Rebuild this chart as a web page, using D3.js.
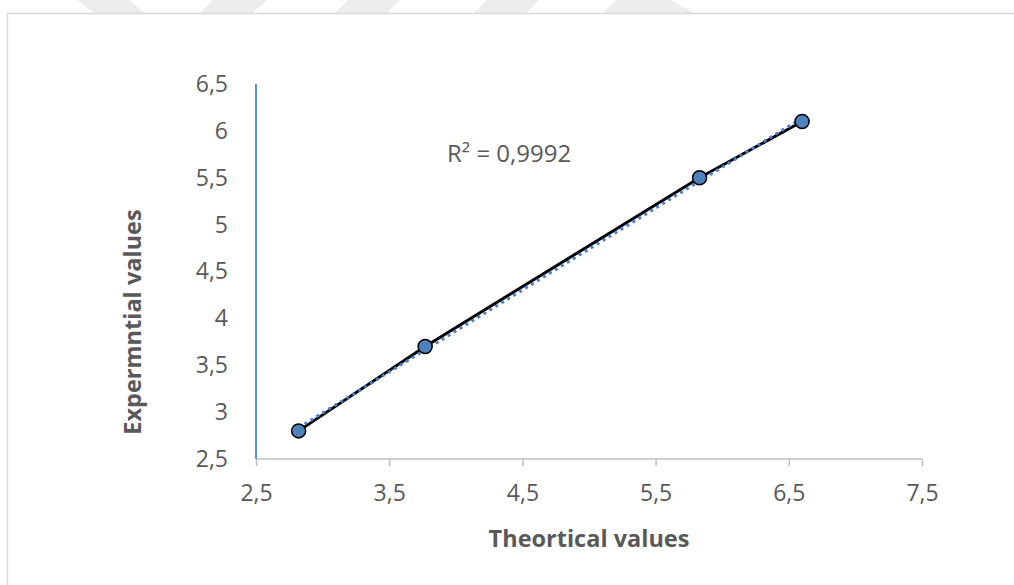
<!DOCTYPE html>
<html>
<head>
<meta charset="utf-8">
<script src="https://cdn.jsdelivr.net/npm/d3@7"></script>
<style>
  html, body { margin: 0; padding: 0; background: #fff; }
  svg { display: block; }
</style>
</head>
<body>
<svg id="chart" width="1014" height="585"></svg>
<script>
// ---- data ----
const theoretical = [2.82, 3.77, 5.83, 6.60];
const experimental = [2.8, 3.7, 5.5, 6.1];
const xTicks = [2.5, 3.5, 4.5, 5.5, 6.5, 7.5];
const yTicks = [2.5, 3, 3.5, 4, 4.5, 5, 5.5, 6, 6.5];
const xTitle = "Theortical values";
const yTitle = "Expermntial values";
const r2Label = "R² = 0,9992";

const svg = d3.select("#chart");
const font = "'Open Sans', sans-serif";
const textColor = "#595959";

// watermark wedges at the top
const wm = [
  [[77,0],[129,0],[145,13],[94,13]],
  [[213,0],[268,0],[252,13],[200,13]],
  [[348,0],[400,0],[387,13],[335,13]],
  [[487,0],[539,0],[526,13],[474,13]],
  [[616,0],[671,0],[694,13],[603,13]]
];
svg.selectAll("polygon.wm").data(wm).enter().append("polygon")
  .attr("points", d => d.map(p => p.join(",")).join(" "))
  .attr("fill", "#ededed");

// chart frame
svg.append("path")
  .attr("d", "M7.5,585 L7.5,13.5 L1014,13.5")
  .attr("fill", "none").attr("stroke", "#d9d9d9").attr("stroke-width", 1.5);

const x = d3.scaleLinear().domain([2.5, 7.5]).range([256, 922]);
const y = d3.scaleLinear().domain([2.5, 6.5]).range([459, 84]);
const fmt = v => String(v).replace(".", ",");

// x axis
const xAxis = svg.append("g").attr("transform", "translate(0,459)")
  .call(d3.axisBottom(x).tickValues(xTicks).tickSize(7).tickPadding(19).tickFormat(fmt));
xAxis.select(".domain").attr("stroke", "#bfbfbf").attr("stroke-width", 1.5)
  .attr("d", `M${x(2.5)},0H${x(7.5)}`);
xAxis.selectAll(".tick line").attr("stroke", "#bfbfbf").attr("stroke-width", 1.5);
xAxis.selectAll(".tick text").attr("fill", textColor)
  .style("font-family", font).style("font-size", "23px");

// y axis
const yAxis = svg.append("g").attr("transform", "translate(256,0)")
  .call(d3.axisLeft(y).tickValues(yTicks).tickSize(0).tickPadding(28).tickFormat(fmt));
yAxis.select(".domain").attr("stroke", "#5b8fd6").attr("stroke-width", 2)
  .attr("d", `M0,${y(2.5)}V${y(6.5)}`);
yAxis.selectAll(".tick text").attr("fill", textColor)
  .style("font-family", font).style("font-size", "23px");

// trendline (least squares fit of the data)
const mx = d3.mean(theoretical), my = d3.mean(experimental);
const sxy = d3.sum(theoretical.map((v, i) => (v - mx) * (experimental[i] - my)));
const sxx = d3.sum(theoretical.map(v => (v - mx) ** 2));
const slope = sxy / sxx, intercept = my - slope * mx;
const xmin = d3.min(theoretical), xmax = d3.max(theoretical);

// series line
const pts = theoretical.map((v, i) => [v, experimental[i]]);
svg.append("path").datum(pts)
  .attr("d", d3.line().x(d => x(d[0])).y(d => y(d[1])))
  .attr("fill", "none").attr("stroke", "#000").attr("stroke-width", 3);

svg.append("line")
  .attr("x1", x(xmin)).attr("y1", y(slope * xmin + intercept))
  .attr("x2", x(xmax)).attr("y2", y(slope * xmax + intercept))
  .attr("stroke", "#4a7fcb").attr("stroke-width", 3)
  .attr("stroke-dasharray", "3,4");

// markers
svg.selectAll("circle.pt").data(pts).enter().append("circle")
  .attr("cx", d => x(d[0])).attr("cy", d => y(d[1])).attr("r", 7)
  .attr("fill", "#4f81bd").attr("stroke", "#000").attr("stroke-width", 1.5);

// R² label
svg.append("text").attr("x", 447).attr("y", 162).text(r2Label)
  .attr("fill", textColor).style("font-family", font).style("font-size", "24px");

// axis titles
svg.append("text").attr("x", 589).attr("y", 547).attr("text-anchor", "middle")
  .text(xTitle).attr("fill", textColor)
  .style("font-family", font).style("font-size", "23.5px").style("font-weight", "bold");
svg.append("text").attr("transform", "translate(141,322) rotate(-90)")
  .attr("text-anchor", "middle").text(yTitle).attr("fill", textColor)
  .style("font-family", font).style("font-size", "23.5px").style("font-weight", "bold");
</script>
</body>
</html>
